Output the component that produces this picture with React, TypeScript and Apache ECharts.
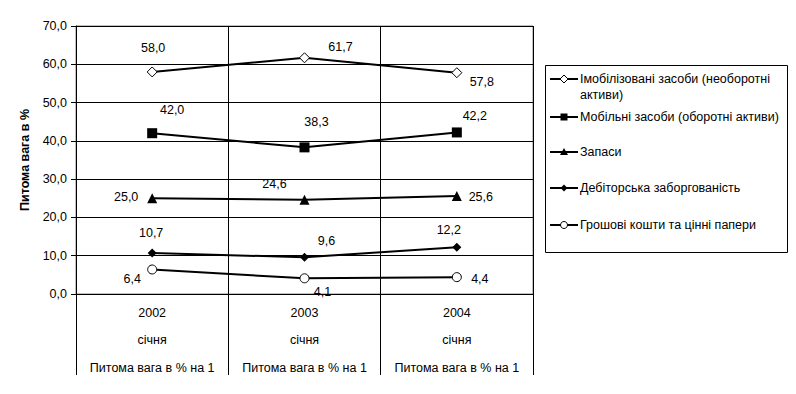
import React, { useEffect, useRef } from "react";
import * as echarts from "echarts";

const categories = ["2002", "2003", "2004"];
const monthLabel = "січня";
const noteLabel = "Питома вага в % на 1";
const yAxisTitle = "Питома вага в %";

const seriesNames = [
  "Імобілізовані засоби (необоротні активи)",
  "Мобільні засоби (оборотні активи)",
  "Запаси",
  "Дебіторська заборгованість",
  "Грошові кошти та цінні папери",
];
const immobilized = [58.0, 61.7, 57.8];
const mobile = [42.0, 38.3, 42.2];
const inventory = [25.0, 24.6, 25.6];
const receivables = [10.7, 9.6, 12.2];
const cash = [6.4, 4.1, 4.4];

const yMin = 0;
const yMax = 70;
const yStep = 10;

const FONT = "'Liberation Sans', Arial, sans-serif";
const FS = 12.5;
const fmt = (v: number) => v.toFixed(1).replace(".", ",");

// styling: label offsets per point (relative to marker centre)
const labelOffsets: number[][][] = [
  [[1, -24], [36, -11], [25, 9]],
  [[20, -23], [12, -25], [18, -16]],
  [[-26, -1], [-30, -16], [24, 1]],
  [[-1, -20], [22, -16], [-8, -17]],
  [[-20, 10], [18, 14], [23, 2]],
];

const markerStyles = [
  { symbol: "diamond", size: 10, fill: "#fff" },
  { symbol: "rect", size: 10, fill: "#000" },
  { symbol: "triangle", size: 10, fill: "#000" },
  { symbol: "diamond", size: 9, fill: "#000" },
  { symbol: "circle", size: 9, fill: "#fff" },
];

export default function App() {
  const ref = useRef<HTMLDivElement>(null);
  useEffect(() => {
    if (!ref.current) return;
    const chart = echarts.init(ref.current, undefined, { renderer: "svg" });
    const allData = [immobilized, mobile, inventory, receivables, cash];

    const series = allData.map((arr, si) => ({
      type: "line",
      name: seriesNames[si],
      symbol: markerStyles[si].symbol,
      symbolSize: markerStyles[si].size,
      showAllSymbol: true,
      lineStyle: { color: "#000", width: 2 },
      itemStyle: {
        color: markerStyles[si].fill,
        borderColor: "#000",
        borderWidth: markerStyles[si].fill === "#fff" ? 1 : 0,
      },
      emphasis: { disabled: true },
      data: arr.map((v, i) => ({
        value: v,
        label: {
          show: true,
          position: "inside",
          offset: labelOffsets[si][i],
          formatter: fmt(v),
          color: "#000",
          fontSize: FS,
          fontFamily: FONT,
        },
      })),
      z: 10 - si,
    }));

    // legend drawn as graphic
    const legendLeft = 550;
    const legendYs = [79, 117, 152, 188, 225];
    const legendMarkers = [
      { type: "polygon", shape: { points: [[14, -4], [18, 0], [14, 4], [10, 0]] }, style: { fill: "#fff", stroke: "#000", lineWidth: 1 } },
      { type: "rect", shape: { x: 10.5, y: -3.5, width: 7, height: 7 }, style: { fill: "#000" } },
      { type: "polygon", shape: { points: [[14, -4], [18, 3], [10, 3]] }, style: { fill: "#000" } },
      { type: "polygon", shape: { points: [[14, -3.5], [17.5, 0], [14, 3.5], [10.5, 0]] }, style: { fill: "#000" } },
      { type: "circle", shape: { cx: 14, cy: 0, r: 3.5 }, style: { fill: "#fff", stroke: "#000", lineWidth: 1 } },
    ];
    const legendTexts = [
      "Імобілізовані засоби (необоротні\nактиви)",
      seriesNames[1],
      seriesNames[2],
      seriesNames[3],
      seriesNames[4],
    ];
    const legendItems = legendYs.map((y, i) => ({
      type: "group",
      x: legendLeft,
      y,
      children: [
        { type: "line", z: 5, shape: { x1: 0, y1: 0, x2: 28, y2: 0 }, style: { stroke: "#000", lineWidth: 2 } },
        { ...legendMarkers[i], z: 6 },
        {
          type: "text",
          z: 6,
          x: 30,
          y: -8,
          style: {
            text: legendTexts[i],
            fill: "#000",
            font: `${FS}px ${FONT}`,
            lineHeight: 16,
            verticalAlign: "top",
            align: "left",
          },
        },
      ],
    }));

    chart.setOption({
      animation: false,
      textStyle: { fontFamily: FONT },
      grid: {
        left: 76,
        right: 263,
        top: 26,
        bottom: 100,
        show: true,
        borderColor: "#808080",
        borderWidth: 1,
        containLabel: false,
      },
      xAxis: {
        type: "category",
        data: categories,
        boundaryGap: true,
        axisLine: { show: true, lineStyle: { color: "#000", width: 1 } },
        axisTick: {
          show: true,
          alignWithLabel: false,
          interval: 0,
          length: 81,
          lineStyle: { color: "#000", width: 1 },
        },
        splitLine: { show: true, interval: 0, lineStyle: { color: "#000", width: 1 } },
        axisLabel: {
          interval: 0,
          margin: 5,
          color: "#000",
          fontSize: FS,
          fontFamily: FONT,
          lineHeight: 27.5,
          formatter: (v: string) => `${v}\n${monthLabel}\n${noteLabel}`,
        },
      },
      yAxis: {
        type: "value",
        min: yMin,
        max: yMax,
        interval: yStep,
        name: yAxisTitle,
        nameLocation: "middle",
        nameGap: 43,
        nameRotate: 90,
        nameTextStyle: { color: "#000", fontSize: FS, fontWeight: "bold", fontFamily: FONT },
        axisLine: { show: true, lineStyle: { color: "#000", width: 1 } },
        axisTick: { show: true, length: 5, lineStyle: { color: "#000" } },
        splitLine: { show: true, lineStyle: { color: "#000", width: 1 } },
        axisLabel: {
          color: "#000",
          fontSize: FS,
          fontFamily: FONT,
          margin: 9,
          formatter: (v: number) => fmt(v),
        },
      },
      series,
      graphic: [
        {
          type: "rect",
          z: 4,
          shape: { x: 545.5, y: 65.5, width: 242, height: 187 },
          style: { fill: "#fff", stroke: "#000", lineWidth: 1 },
        },
        ...legendItems,
      ],
    });
    return () => chart.dispose();
  }, []);

  return (
    <div
      ref={ref}
      style={{ position: "fixed", left: 0, top: 0, width: 796, height: 394, background: "#fff" }}
    />
  );
}
